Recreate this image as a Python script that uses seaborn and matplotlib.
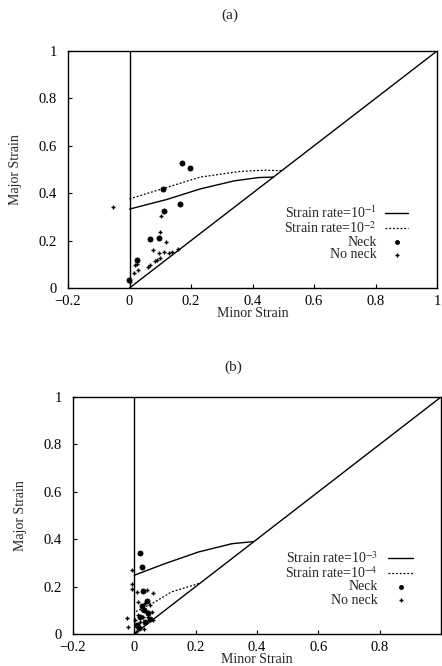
import matplotlib
matplotlib.use("Agg")
import matplotlib.pyplot as plt
import seaborn as sns
from matplotlib.lines import Line2D

# ---------------- data ----------------
# panel (a)
a_rate1_x = [0.0, 0.12, 0.23, 0.34, 0.42, 0.468]
a_rate1_y = [0.333, 0.373, 0.418, 0.452, 0.466, 0.468]
a_rate2_x = [0.0, 0.11, 0.23, 0.36, 0.44, 0.495]
a_rate2_y = [0.376, 0.42, 0.468, 0.492, 0.497, 0.495]
a_neck_x = [0.171, 0.196, 0.108, 0.163, 0.111, 0.068, 0.097, 0.023, -0.002]
a_neck_y = [0.528, 0.507, 0.419, 0.355, 0.323, 0.206, 0.210, 0.119, 0.034]
a_noneck_x = [-0.053, 0.104, 0.100, 0.119, 0.077, 0.111, 0.095, 0.128, 0.139, 0.158,
              0.088, 0.066, 0.023, 0.019, 0.027, 0.016, 0.003, 0.084, 0.100, 0.060]
a_noneck_y = [0.340, 0.302, 0.236, 0.195, 0.161, 0.153, 0.147, 0.147, 0.153, 0.164,
              0.119, 0.097, 0.100, 0.097, 0.076, 0.062, 0.024, 0.114, 0.128, 0.090]

# panel (b)
b_rate3_x = [0.0, 0.1, 0.209, 0.318, 0.39]
b_rate3_y = [0.248, 0.297, 0.346, 0.381, 0.39]
b_rate4_x = [0.005, 0.068, 0.122, 0.215]
b_rate4_y = [0.095, 0.136, 0.178, 0.215]
b_neck_x = [0.019, 0.024, 0.029, 0.040, 0.030, 0.020, 0.035, 0.010, 0.045, 0.025, 0.015, 0.050]
b_neck_y = [0.342, 0.283, 0.180, 0.140, 0.100, 0.070, 0.050, 0.040, 0.090, 0.120, 0.025, 0.065]
b_noneck_x = [-0.009, -0.009, -0.006, 0.008, 0.040, 0.062, 0.013, 0.035, 0.051, 0.024,
              0.040, 0.057, 0.013, 0.029, 0.046, 0.002, 0.019, 0.035, 0.008, -0.025,
              -0.020, 0.030, 0.060, 0.005]
b_noneck_y = [0.269, 0.213, 0.190, 0.178, 0.185, 0.171, 0.136, 0.129, 0.122, 0.101,
              0.094, 0.094, 0.080, 0.073, 0.070, 0.059, 0.052, 0.045, 0.031, 0.066,
              0.031, 0.020, 0.060, 0.010]

diag_x = [0.0, 1.0]
diag_y = [0.0, 1.0]

x_ticks = [-0.2, 0, 0.2, 0.4, 0.6, 0.8, 1]
a_x_ticklabels = ["\u22120.2", "0", "0.2", "0.4", "0.6", "0.8", "1"]
b_x_ticklabels = ["\u22120.2", "0", "0.2", "0.4", "0.6", "0.8", ""]
y_ticks = [0, 0.2, 0.4, 0.6, 0.8, 1]
y_ticklabels = ["0", "0.2", "0.4", "0.6", "0.8", "1"]

a_labels = [r"Strain rate=10$^{-1}$", r"Strain rate=10$^{-2}$", "Neck", "No neck"]
b_labels = [r"Strain rate=10$^{-3}$", r"Strain rate=10$^{-4}$", "Neck", "No neck"]

# ---------------- style ----------------
sns.set_style("ticks")
plt.rcParams['font.family'] = ['Liberation Serif', 'DejaVu Serif']
plt.rcParams['mathtext.fontset'] = 'stix'

W, H = 442, 666
fig = plt.figure(figsize=(W / 100, H / 100), dpi=100)


def px_axes(l, r, t, b):
    return fig.add_axes([l / W, 1 - b / H, (r - l) / W, (b - t) / H])


ax_a = px_axes(68, 437, 51, 288)
ax_b = px_axes(73, 441, 397, 634)

DASH = (0, (1.5, 1.5))


def fx(p):
    return p / W


def fy(p):
    return 1 - p / H


def draw_legend(labels, text_right, h0, h1, rows):
    styles = [dict(ls="-", lw=1.0), dict(ls=DASH, lw=0.9)]
    for i, (lab, yy) in enumerate(zip(labels, rows)):
        fig.text(fx(text_right), fy(yy), lab, ha="right", va="center",
                 fontsize=10)
        if i < 2:
            fig.add_artist(Line2D([fx(h0), fx(h1)], [fy(yy), fy(yy)],
                                  transform=fig.transFigure, color="black",
                                  **styles[i]))
        else:
            mk = "o" if i == 2 else "+"
            ms = 2.5 if i == 2 else 3.5
            fig.add_artist(Line2D([fx((h0 + h1) / 2)], [fy(yy)],
                                  transform=fig.transFigure, color="black",
                                  marker=mk, markersize=ms, lw=0))


def draw_panel(ax, c1x, c1y, c2x, c2y, nx, ny, ox, oy, xtl):
    ax.axvline(0, color="black", lw=1.0, zorder=1)
    sns.lineplot(x=diag_x, y=diag_y, ax=ax, color="black", lw=1.0, sort=False)
    sns.lineplot(x=c1x, y=c1y, ax=ax, color="black", lw=1.0, sort=False)
    sns.lineplot(x=c2x, y=c2y, ax=ax, color="black", lw=0.9, sort=False,
                 linestyle=DASH)
    sns.scatterplot(x=nx, y=ny, ax=ax, color="black", marker="o", s=14,
                    edgecolor="black", linewidth=0.5, zorder=3)
    sns.scatterplot(x=ox, y=oy, ax=ax, color="black", marker="+", s=12,
                    linewidth=1.0, zorder=3)
    ax.set_xlim(-0.2, 1.0)
    ax.set_ylim(0, 1.0)
    ax.set_xticks(x_ticks)
    ax.set_xticklabels(xtl)
    ax.set_yticks(y_ticks)
    ax.set_yticklabels(y_ticklabels)
    ax.tick_params(direction="in", length=3, width=0.8, labelsize=10.5,
                   colors="black")
    ax.tick_params(axis="x", pad=5)
    ax.tick_params(axis="y", pad=8)
    for sp in ax.spines.values():
        sp.set_visible(True)
        sp.set_linewidth(1.0)
        sp.set_color("black")
    ax.set_xlabel("Minor Strain", fontsize=10, labelpad=-1)
    ax.set_ylabel("Major Strain", fontsize=10, labelpad=12)


draw_panel(ax_a, a_rate1_x, a_rate1_y, a_rate2_x, a_rate2_y,
           a_neck_x, a_neck_y, a_noneck_x, a_noneck_y, a_x_ticklabels)
draw_panel(ax_b, b_rate3_x, b_rate3_y, b_rate4_x, b_rate4_y,
           b_neck_x, b_neck_y, b_noneck_x, b_noneck_y, b_x_ticklabels)

draw_legend(a_labels, 377, 385, 408, [213, 228, 242, 255])
draw_legend(b_labels, 378, 388, 413, [558, 573, 587, 600])

fig.text(230 / W, 1 - 15 / H, "(a)", ha="center", va="center", fontsize=11)
fig.text(233 / W, 1 - 367 / H, "(b)", ha="center", va="center", fontsize=11)

fig.savefig("out.png", dpi=100)
